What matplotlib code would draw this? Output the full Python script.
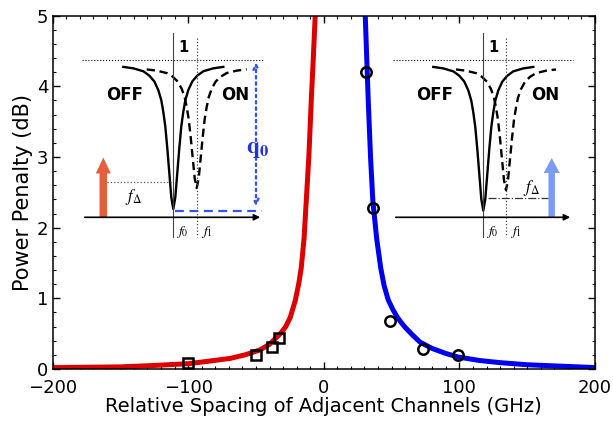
import numpy as np
import matplotlib
matplotlib.use("Agg")
import matplotlib.pyplot as plt
from matplotlib.ticker import MultipleLocator

plt.rcParams['font.family'] = ['DejaVu Sans']
plt.rcParams['mathtext.fontset'] = 'stix'

# fitted curves
red_x = [-200, -175, -150, -125, -100, -85, -69, -58, -47, -40, -32, -28, -24.7, -21, -18.5, -16.6, -14.5, -12.9, -11, -9.2, -7.7, -6.3]
red_y = [0.02, 0.025, 0.03, 0.05, 0.075, 0.11, 0.15, 0.2, 0.27, 0.35, 0.5, 0.6, 0.73, 0.97, 1.2, 1.43, 1.85, 2.38, 3.0, 3.8, 4.4, 5.0]
blue_x = [30.6, 32.8, 34.5, 36.2, 39, 42, 44.5, 47.5, 51, 54, 57, 60, 65, 71, 80, 90, 99, 115, 130, 150, 175, 200]
blue_y = [5.0, 3.8, 3.0, 2.38, 1.85, 1.43, 1.18, 0.98, 0.84, 0.74, 0.66, 0.59, 0.49, 0.38, 0.29, 0.22, 0.17, 0.12, 0.09, 0.06, 0.04, 0.02]

# measured points
sq_x = [-100, -50, -38, -33]
sq_y = [0.09, 0.2, 0.31, 0.44]
circ_x = [31, 36, 49, 73, 99]
circ_y = [4.2, 2.28, 0.68, 0.29, 0.2]

# schematic dip profile for the insets (offset in px, relative depth)
dip_dx = [-50, -40, -30, -24, -19, -15, -12, -10, -8, -6, -4, -2, 0, 2, 4, 6, 8, 10, 12, 15, 19, 24, 30, 40, 50]
dip_d = [0.02, 0.03, 0.05, 0.08, 0.12, 0.18, 0.25, 0.33, 0.43, 0.58, 0.75, 0.92, 1.0, 0.92, 0.75, 0.58, 0.43, 0.33, 0.25, 0.18, 0.12, 0.08, 0.05, 0.03, 0.02]

W, H = 613, 430
fig = plt.figure(figsize=(W / 100, H / 100), dpi=100)
ax = fig.add_axes([52.5 / W, 1 - 369 / H, 542.5 / W, 353.3 / H])

ax.plot(red_x, red_y, color='#dd0000', lw=3.6, solid_capstyle='butt', zorder=2)
ax.plot(blue_x, blue_y, color='#0000ee', lw=3.6, solid_capstyle='butt', zorder=2)
ax.plot(sq_x, sq_y, 's', ms=7, mfc='none', mec='black', mew=1.8, zorder=3)
ax.plot(circ_x, circ_y, 'o', ms=7.5, mfc='none', mec='black', mew=1.8, zorder=3)

ax.set_xlim(-200, 200)
ax.set_ylim(0, 5)
ax.xaxis.set_major_locator(MultipleLocator(100))
ax.xaxis.set_minor_locator(MultipleLocator(10))
ax.yaxis.set_major_locator(MultipleLocator(1))
ax.yaxis.set_minor_locator(MultipleLocator(0.2))
ax.tick_params(which='both', direction='in', top=True, right=True, labelsize=13)
ax.tick_params(axis='x', pad=7)
ax.tick_params(axis='y', pad=3)
ax.tick_params(which='major', length=5, width=1)
ax.tick_params(which='minor', length=2.5, width=0.8)
for s in ax.spines.values():
    s.set_linewidth(1.1)
ax.set_xlabel('Relative Spacing of Adjacent Channels (GHz)', fontsize=14, labelpad=0)
ax.set_ylabel('Power Penalty (dB)', fontsize=15, labelpad=3)

# overlay in pixel coordinates for the two schematic insets
ov = fig.add_axes([0, 0, 1, 1])
ov.set_xlim(0, W)
ov.set_ylim(H, 0)
ov.axis('off')

dx = np.array(dip_dx)
dd = np.array(dip_d)


def draw_inset(cx0, cx1, x_left, x_right, ymin0, ymin1, off_x, on_x):
    ytop = 64
    ov.plot([x_left, x_right], [59.5, 59.5], ':', color='black', lw=0.8)
    ov.plot(cx0 + dx, ytop + dd * (ymin0 - ytop), '-', color='black', lw=1.7)
    ov.plot(cx1 + dx, ytop + 3 + dd * (ymin1 - ytop - 3), '--', color='black', lw=1.7, dashes=(3.5, 2))
    ov.plot([cx0, cx0], [33, 237], '-', color='#444444', lw=0.8)
    ov.plot([cx1, cx1], [38, 237], ':', color='#444444', lw=0.9)
    ov.text(cx0 + 10, 47, '1', fontsize=10.5, fontweight='bold', ha='center', va='center')
    ov.text(off_x, 95, 'OFF', fontsize=12, fontweight='bold', ha='center', va='center')
    ov.text(on_x, 95, 'ON', fontsize=12, fontweight='bold', ha='center', va='center')
    ov.annotate('', xy=(x_right, 217.3), xytext=(x_left, 217.3),
                arrowprops=dict(arrowstyle='-|>', color='black', lw=1.2, mutation_scale=9))
    ov.text(cx0 + 9, 232, r'$f_0$', fontsize=10, ha='center', va='center')
    ov.text(cx1 + 10, 232, r'$f_1$', fontsize=10, ha='center', va='center')


# left inset (red arrow, OFF -> ON)
draw_inset(173.3, 196.7, 82, 263, 209, 188, 125, 235)
ov.arrow(103.3, 217.5, 0, -60, width=7.5, head_width=15, head_length=16,
         length_includes_head=True, color='#e35f3e', lw=0)
ov.plot([107, 172], [181.7, 181.7], ':', color='#555555', lw=0.9)
ov.text(133, 197, r'$f_\Delta$', fontsize=12, ha='center', va='center')
ov.plot([175, 262], [210.7, 210.7], '--', color='#3355ee', lw=1.6, dashes=(4, 2.5))
ov.annotate('', xy=(256, 59.5), xytext=(256, 209),
            arrowprops=dict(arrowstyle='<->', ls=':', lw=1.7, color='#3355ee', mutation_scale=9))
ov.text(258, 148, r'$\mathbf{q_0}$', fontsize=17, color='#2233dd', ha='center', va='center')

# right inset (blue arrow)
draw_inset(483.3, 506, 393, 573, 210.7, 190, 435, 545)
ov.arrow(551.7, 218, 0, -60, width=6.5, head_width=16, head_length=15,
         length_includes_head=True, color='#7b9cf2', lw=0)
ov.plot([488, 548], [198.3, 198.3], '-.', color='#333333', lw=0.9)
ov.text(531, 188, r'$f_\Delta$', fontsize=12, ha='center', va='center')

fig.savefig('out.png', dpi=100)
